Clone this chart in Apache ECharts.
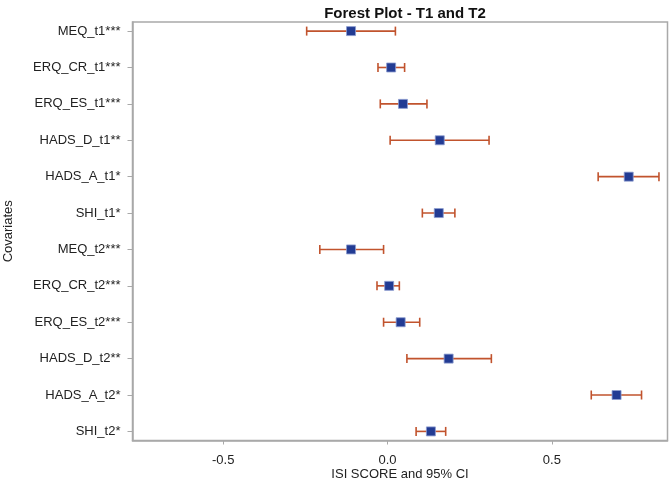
<!DOCTYPE html>
<html>
<head>
<meta charset="utf-8">
<script src="https://cdn.jsdelivr.net/npm/echarts@6/dist/echarts.min.js"></script>
<style>html,body{margin:0;padding:0;background:#fff;}#c{width:669px;height:488px;}</style>
</head>
<body>
<div id="c"></div>
<script>
var covariates = ['MEQ_t1***','ERQ_CR_t1***','ERQ_ES_t1***','HADS_D_t1**','HADS_A_t1*','SHI_t1*',
                  'MEQ_t2***','ERQ_CR_t2***','ERQ_ES_t2***','HADS_D_t2**','HADS_A_t2*','SHI_t2*'];
var estimate = [-0.111, 0.011, 0.047, 0.159, 0.734, 0.156, -0.111, 0.005, 0.040, 0.186, 0.697, 0.132];
var lower    = [-0.246,-0.029,-0.022, 0.008, 0.641, 0.106, -0.206,-0.032,-0.012, 0.059, 0.620, 0.087];
var upper    = [ 0.024, 0.052, 0.120, 0.309, 0.826, 0.205, -0.012, 0.036, 0.098, 0.316, 0.773, 0.177];
var xTicks = [-0.5, 0.0, 0.5];

var FONT = '"Liberation Sans", Arial, sans-serif';
var ciData = covariates.map(function(c,i){ return [lower[i], upper[i], i]; });
var ptData = covariates.map(function(c,i){ return [estimate[i], i]; });
var rowIdx = covariates.map(function(c,i){ return i; });

var chart = echarts.init(document.getElementById('c'));
chart.setOption({
  animation: false,
  backgroundColor: '#fff',
  title: {
    text: 'Forest Plot - T1 and T2',
    left: 400, top: 1, textAlign: 'center',
    textStyle: {fontFamily: FONT, fontSize: 15, fontWeight: 'bold', color: '#111'}
  },
  grid: {left: 132.5, right: 1.5, top: 22, bottom: 47.5, containLabel: false, outerBoundsMode: 'none',
    show: true, borderColor: '#a9a9a9', borderWidth: 1.5, backgroundColor: '#fff'},
  xAxis: {
    type: 'value', min: -0.776, max: 0.852,
    splitLine: {show: false},
    axisLine: {show: true, onZero: false, lineStyle: {color: '#a9a9a9', width: 1.5}},
    axisTick: {show: true, length: 4, customValues: xTicks, lineStyle: {color: '#a9a9a9'}},
    axisLabel: {customValues: xTicks, color: '#222', fontFamily: FONT, fontSize: 13, margin: 13,
      formatter: function(v){ return v.toFixed(1); }},
    name: 'ISI SCORE and 95% CI', nameLocation: 'middle', nameGap: 27, nameMoveOverlap: false,
    nameTextStyle: {fontFamily: FONT, fontSize: 13, color: '#222'}
  },
  yAxis: {
    type: 'value', inverse: true, min: -0.25, max: 11.25,
    splitLine: {show: false},
    axisLine: {show: true, onZero: false, lineStyle: {color: '#a9a9a9', width: 1.5}},
    axisTick: {show: true, length: 5, customValues: rowIdx, lineStyle: {color: '#a9a9a9'}},
    axisLabel: {customValues: rowIdx, color: '#222', fontFamily: FONT, fontSize: 13, margin: 12,
      formatter: function(v){ return covariates[Math.round(v)]; }},
    name: 'Covariates', nameLocation: 'middle', nameGap: 118, nameRotate: 90, nameMoveOverlap: false,
    nameTextStyle: {fontFamily: FONT, fontSize: 13, color: '#222'}
  },
  series: [
    {
      type: 'custom',
      data: ciData,
      encode: {x: [0,1], y: 2},
      renderItem: function(params, api){
        var y = api.value(2);
        var p1 = api.coord([api.value(0), y]);
        var p2 = api.coord([api.value(1), y]);
        var h = 4.5;
        var st = {stroke: '#c1532d', lineWidth: 1.6};
        return {type: 'group', children: [
          {type: 'line', shape: {x1: p1[0], y1: p1[1], x2: p2[0], y2: p2[1]}, style: st},
          {type: 'line', shape: {x1: p1[0], y1: p1[1]-h, x2: p1[0], y2: p1[1]+h}, style: st},
          {type: 'line', shape: {x1: p2[0], y1: p2[1]-h, x2: p2[0], y2: p2[1]+h}, style: st}
        ]};
      },
      z: 2
    },
    {
      type: 'scatter',
      data: ptData,
      symbol: 'rect', symbolSize: 9,
      itemStyle: {color: '#223b93', borderColor: '#8c9ccf', borderWidth: 0.8, opacity: 1},
      z: 3
    }
  ]
});
</script>
</body>
</html>
